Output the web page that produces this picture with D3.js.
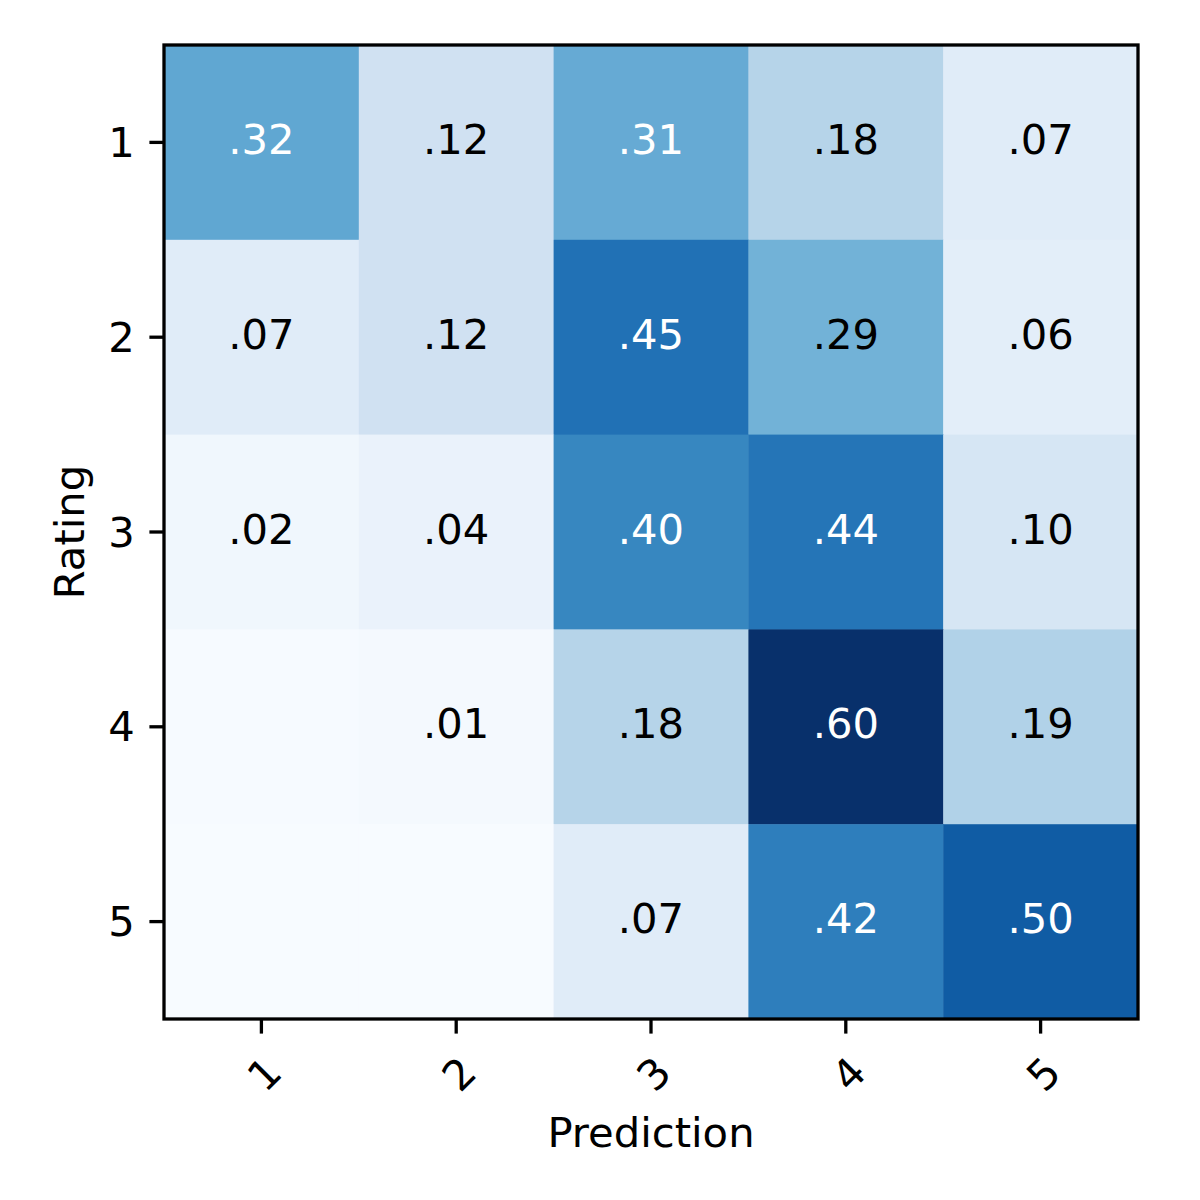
<!DOCTYPE html>
<html>
<head>
<meta charset="utf-8">
<script src="https://cdn.jsdelivr.net/npm/d3@7"></script>
<style>
  body { margin: 0; background: #fff; }
  svg text { font-family: "DejaVu Sans", sans-serif; }
</style>
</head>
<body>
<svg id="chart" width="1200" height="1200"></svg>
<script>
// classes on both axes
const ratings = ['1', '2', '3', '4', '5']
const predictions = ['1', '2', '3', '4', '5']

// one row per true rating, one column per prediction
const row1 = [0.32, 0.12, 0.31, 0.18, 0.07]
const row2 = [0.07, 0.12, 0.45, 0.29, 0.06]
const row3 = [0.02, 0.04, 0.40, 0.44, 0.10]
const row4 = [0.004, 0.01, 0.18, 0.60, 0.19]
const row5 = [0.0, 0.0, 0.07, 0.42, 0.50]
const matrix = [row1, row2, row3, row4, row5]

// matplotlib "Blues" anchor colours
const bluesStops = ['#f7fbff', '#deebf7', '#c6dbef', '#9ecae1', '#6baed6',
                    '#4292c6', '#2171b5', '#08519c', '#08306b']

const margin = { left: 164, top: 45, right: 62, bottom: 181 }
const width = 1200 - margin.left - margin.right
const height = 1200 - margin.top - margin.bottom
const fontSize = 41.7
const lw = 3.3
const tickLen = 14.6

const svg = d3.select('#chart')
const g = svg.append('g').attr('transform', `translate(${margin.left},${margin.top})`)

const x = d3.scaleBand().domain(predictions).range([0, width])
const y = d3.scaleBand().domain(ratings).range([0, height])

const vmax = d3.max(matrix.flat())
const color = d3.scaleLinear()
  .domain(bluesStops.map((d, i) => vmax * i / (bluesStops.length - 1)))
  .range(bluesStops)
  .interpolate(d3.interpolateRgb)
  .clamp(true)

const cells = []
matrix.forEach((row, i) => {
  row.forEach((v, j) => cells.push({ r: ratings[i], p: predictions[j], v: v }))
})

g.selectAll('rect.cell')
  .data(cells)
  .join('rect')
  .attr('class', 'cell')
  .attr('x', d => x(d.p))
  .attr('y', d => y(d.r))
  .attr('width', x.bandwidth() + 0.5)
  .attr('height', y.bandwidth() + 0.5)
  .style('fill', d => color(d.v))

// labels: drop the leading zero, hide anything that rounds to zero
const fmt = v => d3.format('.2f')(v).replace(/^0/, '')
const thresh = vmax / 2

g.selectAll('text.val')
  .data(cells.filter(d => Math.round(d.v * 100) > 0))
  .join('text')
  .attr('class', 'val')
  .attr('x', d => x(d.p) + x.bandwidth() / 2)
  .attr('y', d => y(d.r) + y.bandwidth() / 2 - 3)
  .attr('text-anchor', 'middle')
  .attr('dominant-baseline', 'central')
  .style('font-size', fontSize + 'px')
  .style('fill', d => d.v > thresh ? '#fff' : '#000')
  .text(d => fmt(d.v))

// axes
const xAxis = g.append('g')
  .attr('transform', `translate(0,${height})`)
  .call(d3.axisBottom(x).tickSize(tickLen).tickPadding(0))
xAxis.select('.domain').remove()
xAxis.selectAll('.tick line').attr('stroke', '#000').attr('stroke-width', lw)
xAxis.selectAll('.tick text')
  .attr('y', null).attr('dy', null)
  .attr('text-anchor', 'middle')
  .attr('dominant-baseline', 'central')
  .attr('transform', 'translate(3,55) rotate(-45)')
  .style('font-size', fontSize + 'px')
  .attr('fill', '#000')

const yAxis = g.append('g')
  .call(d3.axisLeft(y).tickSize(tickLen).tickPadding(14.6))
yAxis.select('.domain').remove()
yAxis.selectAll('.tick line').attr('stroke', '#000').attr('stroke-width', lw)
yAxis.selectAll('.tick text')
  .attr('dy', null)
  .attr('dominant-baseline', 'central')
  .style('font-size', fontSize + 'px')
  .attr('fill', '#000')

// frame
g.append('rect')
  .attr('width', width)
  .attr('height', height)
  .style('fill', 'none')
  .style('stroke', '#000')
  .style('stroke-width', lw)

g.append('text')
  .attr('x', width / 2)
  .attr('y', height + 128)
  .attr('text-anchor', 'middle')
  .style('font-size', fontSize + 'px')
  .text('Prediction')

g.append('text')
  .attr('transform', `translate(${84 - margin.left},${height / 2}) rotate(-90)`)
  .attr('text-anchor', 'middle')
  .style('font-size', fontSize + 'px')
  .text('Rating')
</script>
</body>
</html>
